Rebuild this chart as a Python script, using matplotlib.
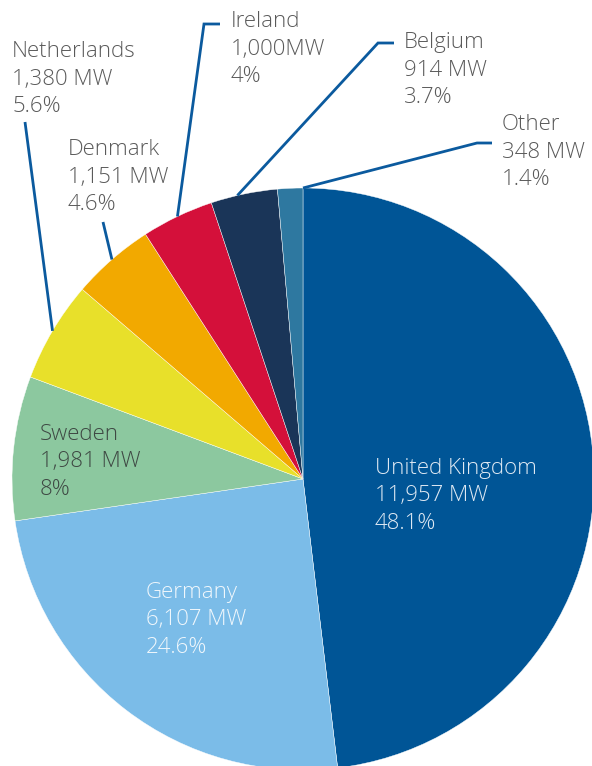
import numpy as np
import matplotlib.pyplot as plt

# data
countries = ['United Kingdom', 'Germany', 'Sweden', 'Netherlands', 'Denmark', 'Ireland', 'Belgium', 'Other']
mw_labels = ['11,957 MW', '6,107 MW', '1,981 MW', '1,380 MW', '1,151 MW', '1,000MW', '914 MW', '348 MW']
shares = [48.1, 24.6, 8.0, 5.6, 4.6, 4.0, 3.7, 1.4]
pct_labels = ['48.1%', '24.6%', '8%', '5.6%', '4.6%', '4%', '3.7%', '1.4%']
colors = ['#005596', '#7bbce8', '#8cc89f', '#e8e02a', '#f2a900', '#d4103a', '#1a3558', '#2e78a0']

# layout (pixel coords, y down)
W, H = 592, 766
cx, cy, R = 303, 479, 291
# first-line baseline position of each label
label_pos = {
    'United Kingdom': (375, 474),
    'Germany': (146, 598),
    'Sweden': (40, 440),
    'Netherlands': (12, 57),
    'Denmark': (68, 155),
    'Ireland': (231, 27),
    'Belgium': (404, 48),
    'Other': (502, 130),
}
text_col = {'United Kingdom': '#dfe9f3', 'Germany': '#f0f7fc', 'Sweden': '#3e4843'}
# leader lines: text-side elbow, and where on the wedge it lands (0..1)
leaders = {
    'Netherlands': ([(25, 122)], 0.5),
    'Denmark': ([(103, 222)], 0.5),
    'Ireland': ([(220, 24), (204, 24)], 0.5),
    'Belgium': ([(394, 43), (378, 43)], 0.4),
    'Other': ([(492, 143), (477, 143)], 1.0),
}
line_step = 27.5

fig = plt.figure(figsize=(W / 100, H / 100), dpi=100)
ax = fig.add_axes([0, 0, 1, 1])

ax.pie(shares, colors=colors, startangle=-90, counterclock=True,
       center=(cx, cy), radius=R,
       wedgeprops=dict(edgecolor='white', linewidth=0.3))
ax.set_xlim(0, W)
ax.set_ylim(H, 0)
ax.set_aspect('equal')
ax.axis('off')

cum = np.cumsum([0] + shares)
for i, name in enumerate(countries):
    x0, y0 = label_pos[name]
    col = text_col.get(name, '#5a5a5a')
    for j, s in enumerate([name, mw_labels[i], pct_labels[i]]):
        ax.text(x0, y0 + j * line_step, s, fontsize=16, color=col,
                family=['Open Sans', 'DejaVu Sans'], fontweight='light',
                ha='left', va='baseline')
    if name in leaders:
        elbow, frac = leaders[name]
        pos = cum[i] + frac * shares[i]
        th = np.deg2rad(-90 + 3.6 * pos)
        ax_pt = (cx + R * np.cos(th), cy + R * np.sin(th))
        pts = [ax_pt] + elbow[::-1]
        ax.plot([p[0] for p in pts], [p[1] for p in pts], color='#0b5a9e',
                lw=2, solid_capstyle='butt', solid_joinstyle='miter')

fig.savefig('out.png', dpi=100)
